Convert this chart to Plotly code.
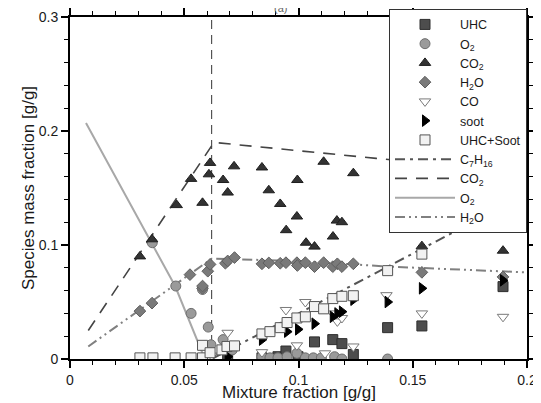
import plotly.graph_objects as go

# ---------------- data ----------------
uhc_x = [0.069, 0.084, 0.091, 0.0945, 0.0998, 0.107, 0.115, 0.119, 0.124, 0.139, 0.154, 0.1895]
uhc_y = [0.001, 0.001, 0.002, 0.007, 0.002, 0.015, 0.017, 0.0135, 0.004, 0.0275, 0.029, 0.0635]

o2_x = [0.036, 0.0463, 0.053, 0.058, 0.0605, 0.0617, 0.067, 0.071, 0.084, 0.0875, 0.091, 0.095,
        0.0993, 0.103, 0.1065, 0.110, 0.1158, 0.119, 0.139]
o2_y = [0.102, 0.064, 0.040, 0.061, 0.028, 0.0125, 0.017, 0.008, 0.002, 0.001, 0.001, 0.002,
        0.005, 0.001, 0.001, 0.001, 0.002, 0.000, 0.000]

co2_x = [0.0306, 0.0359, 0.0467, 0.053, 0.058, 0.0608, 0.0613, 0.067, 0.069, 0.0718, 0.084, 0.087,
         0.092, 0.0946, 0.0993, 0.0995, 0.1033, 0.107, 0.111, 0.1151, 0.1168, 0.119, 0.124, 0.154, 0.1895]
co2_y = [0.090, 0.105, 0.135, 0.158, 0.137, 0.162, 0.172, 0.157, 0.146, 0.169, 0.168, 0.148,
         0.136, 0.113, 0.125, 0.157, 0.102, 0.0986, 0.173, 0.1074, 0.1214, 0.120, 0.163, 0.099, 0.095]

h2o_x = [0.0306, 0.0359, 0.0525, 0.058, 0.058, 0.0603, 0.0613, 0.068, 0.069, 0.072, 0.084, 0.087,
         0.092, 0.0945, 0.0993, 0.0995, 0.103, 0.107, 0.111, 0.115, 0.117, 0.119, 0.124, 0.154, 0.1895]
h2o_y = [0.042, 0.049, 0.074, 0.062, 0.064, 0.077, 0.083, 0.084, 0.086, 0.089, 0.0835, 0.0843,
         0.084, 0.0845, 0.0845, 0.082, 0.0845, 0.081, 0.0845, 0.081, 0.0835, 0.081, 0.0835, 0.076, 0.072]

co_x = [0.062, 0.069, 0.084, 0.0945, 0.0993, 0.103, 0.1116, 0.115, 0.117, 0.119, 0.124, 0.1385, 0.154, 0.1895]
co_y = [0.003, 0.023, 0.006, 0.043, 0.012, 0.050, 0.005, 0.040, 0.033, 0.036, 0.011, 0.056, 0.040, 0.037]

soot_x = [0.069, 0.084, 0.095, 0.0998, 0.107, 0.115, 0.117, 0.119, 0.124, 0.139, 0.154, 0.1895]
soot_y = [0.002, 0.017, 0.024, 0.026, 0.031, 0.037, 0.040, 0.0415, 0.052, 0.050, 0.062, 0.069]

us_x = [0.0306, 0.0363, 0.046, 0.053, 0.058, 0.058, 0.0613, 0.0665, 0.0687, 0.072, 0.084, 0.0875,
        0.092, 0.095, 0.0993, 0.103, 0.107, 0.111, 0.115, 0.119, 0.124, 0.139, 0.154, 0.1895]
us_y = [0.001, 0.001, 0.001, 0.001, 0.001, 0.012, 0.0055, 0.008, 0.011, 0.0115, 0.022, 0.024,
        0.0275, 0.032, 0.036, 0.037, 0.046, 0.044, 0.053, 0.055, 0.0555, 0.0775, 0.092, 0.1325]

# model curves
c7_line_x = [0.062, 0.2]
c7_line_y = [0.0, 0.145]
co2_line_x = [0.008, 0.063, 0.134, 0.2]
co2_line_y = [0.025, 0.190, 0.176, 0.163]
o2_line_x = [0.007, 0.036, 0.046, 0.059]
o2_line_y = [0.207, 0.101, 0.064, 0.0]
h2o_line_x = [0.008, 0.062, 0.1, 0.14, 0.2]
h2o_line_y = [0.011, 0.088, 0.086, 0.081, 0.076]

stoich_x = [0.062, 0.062]
stoich_y = [0.0, 0.3]

x_ticks = [0, 0.05, 0.1, 0.15, 0.2]
x_ticklabels = ["0", "0.05", "0.1", "0.15", "0.2"]
y_ticks = [0, 0.1, 0.2, 0.3]
y_ticklabels = ["0", "0.1", "0.2", "0.3"]

# ---------------- figure ----------------
fig = go.Figure()

# lines (drawn below markers)
fig.add_trace(go.Scatter(x=stoich_x, y=stoich_y, mode="lines", showlegend=False,
                         line=dict(color="#333333", width=1, dash="9px,6px"), hoverinfo="skip"))
fig.add_trace(go.Scatter(x=c7_line_x, y=c7_line_y, mode="lines", name="C<sub>7</sub>H<sub>16</sub>",
                         legendrank=8, line=dict(color="#555555", width=2, dash="10px,5px,3px,5px")))
fig.add_trace(go.Scatter(x=co2_line_x, y=co2_line_y, mode="lines", name="CO<sub>2</sub>",
                         legendrank=9, line=dict(color="#444444", width=1.6, dash="12px,9px")))
fig.add_trace(go.Scatter(x=o2_line_x, y=o2_line_y, mode="lines", name="O<sub>2</sub>",
                         legendrank=10, line=dict(color="#a8a8a8", width=2)))
fig.add_trace(go.Scatter(x=h2o_line_x, y=h2o_line_y, mode="lines", name="H<sub>2</sub>O",
                         legendrank=11, line=dict(color="#808080", width=2,
                                                  dash="10px,4px,2px,4px,2px,4px")))

# markers
def mk(x, y, name, rank, symbol, fill, edge, size=10):
    fig.add_trace(go.Scatter(x=x, y=y, mode="markers", name=name, legendrank=rank,
                             marker=dict(symbol=symbol, size=size, color=fill,
                                         line=dict(color=edge, width=1))))

mk(uhc_x, uhc_y, "UHC", 1, "square", "#4d4d4d", "#2e2e2e", 10)
mk(o2_x, o2_y, "O<sub>2</sub>", 2, "circle", "#9a9a9a", "#6e6e6e", 10)
mk(co2_x, co2_y, "CO<sub>2</sub>", 3, "triangle-up", "#333333", "#1e1e1e", 10)
mk(h2o_x, h2o_y, "H<sub>2</sub>O", 4, "diamond", "#7a7a7a", "#5e5e5e", 9)
mk(co_x, co_y, "CO", 5, "triangle-down", "#ffffff", "#7a7a7a", 10)
mk(soot_x, soot_y, "soot", 6, "triangle-right", "#000000", "#000000", 10)
mk(us_x, us_y, "UHC+Soot", 7, "square", "#f2f2f2", "#555555", 10)

# page body has an 8px margin: figure is sized/offset to compensate
fig.update_layout(
    width=533, height=395,
    margin=dict(l=62, r=14, t=9, b=44, autoexpand=False),
    paper_bgcolor="white", plot_bgcolor="white",
    font=dict(family="Liberation Sans, Arial, sans-serif", color="#1a1a1a", size=14),
    legend=dict(x=1.0, xanchor="right", y=1.024, yanchor="top",
                bgcolor="white", bordercolor="#333333", borderwidth=1,
                font=dict(size=12.5), tracegroupgap=0, itemwidth=60, maxheight=300),
    annotations=[
        dict(text="(a)", xref="paper", yref="paper", x=0.46, y=1.0,
             xanchor="center", yanchor="bottom", yshift=1, showarrow=False,
             font=dict(size=11, color="#666666")),
        dict(text="Mixture fraction [g/g]", xref="paper", yref="paper", x=0.5, y=0,
             xanchor="center", yanchor="top", yshift=-22, showarrow=False,
             font=dict(size=17, color="#1a1a1a")),
    ],
)

axis_common = dict(showline=True, linecolor="black", linewidth=2, mirror="allticks",
                   ticks="outside", ticklen=7, tickwidth=2, tickcolor="black",
                   showgrid=False, zeroline=False, automargin=False)

fig.update_xaxes(range=[0, 0.2], tickvals=x_ticks, ticktext=x_ticklabels,
                 minor=dict(dtick=0.01, ticks="outside", ticklen=4, tickcolor="black", tickwidth=1),
                 **axis_common)
fig.update_yaxes(range=[0, 0.3], tickvals=y_ticks, ticktext=y_ticklabels,
                 title=dict(text="Species mass fraction [g/g]", font=dict(size=17), standoff=0),
                 minor=dict(dtick=0.02, ticks="outside", ticklen=4, tickcolor="black", tickwidth=1),
                 **axis_common)

fig.write_html("out.html")
